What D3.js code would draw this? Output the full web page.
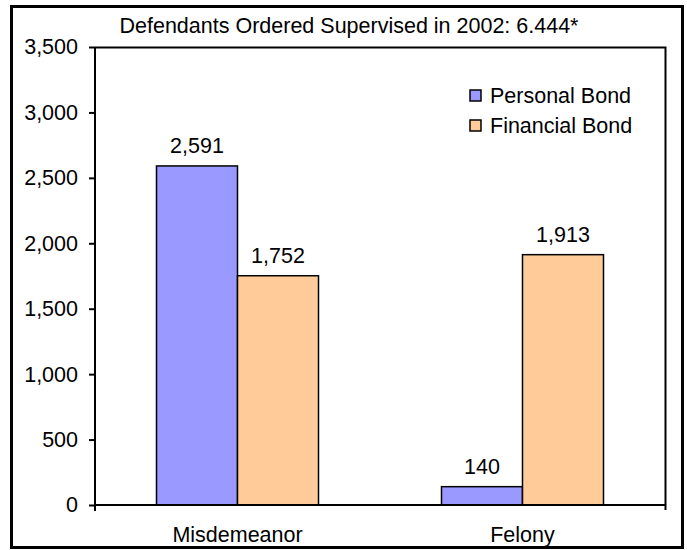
<!DOCTYPE html>
<html>
<head>
<meta charset="utf-8">
<script src="https://cdn.jsdelivr.net/npm/d3@7"></script>
<style>
  body { margin: 0; background: #fff; }
  text { font-family: "Liberation Sans", Arial, sans-serif; fill: #000; }
</style>
</head>
<body>
<svg width="687" height="550"></svg>
<script>
var categories = ['Misdemeanor', 'Felony'];
var series = ['Personal Bond', 'Financial Bond'];
var personalBond = [2591, 140];
var financialBond = [1752, 1913];
var yTicks = [0, 500, 1000, 1500, 2000, 2500, 3000, 3500];
var colors = ['#9999ff', '#ffcc99'];
var title = 'Defendants Ordered Supervised in 2002: 6.444*';

var fs = 21.5;
var svg = d3.select('svg');
var plot = { left: 95, right: 665, top: 47, bottom: 505 };

// outer frame
svg.append('rect')
    .attr('x', 11.5).attr('y', 6.5)
    .attr('width', 671).attr('height', 541)
    .attr('fill', 'none')
    .attr('stroke', '#000')
    .attr('stroke-width', 3);

var x0 = d3.scaleBand()
    .domain(categories)
    .range([plot.left, plot.right])
    .paddingInner(0.4316)
    .paddingOuter(0.2158);

var x1 = d3.scaleBand()
    .domain(series)
    .range([0, x0.bandwidth()]);

var y = d3.scaleLinear()
    .domain([0, 3500])
    .range([plot.bottom, plot.top]);

// plot border top + right
svg.append('path')
    .attr('d', 'M' + plot.left + ',' + (plot.top + 0.5) + 'H' + (plot.right + 0.5) + 'V' + (plot.bottom + 5))
    .attr('fill', 'none')
    .attr('stroke', '#000')
    .attr('stroke-width', 2);

var rows = categories.map(function(c, i) {
    return { cat: c, values: [personalBond[i], financialBond[i]] };
});

var groups = svg.append('g').selectAll('g')
    .data(rows)
    .join('g')
    .attr('transform', function(d) { return 'translate(' + x0(d.cat) + ',0)'; });

groups.selectAll('rect')
    .data(function(d) { return d.values.map(function(v, j) { return { s: series[j], v: v, j: j }; }); })
    .join('rect')
    .attr('x', function(d) { return x1(d.s); })
    .attr('y', function(d) { return y(d.v); })
    .attr('width', x1.bandwidth())
    .attr('height', function(d) { return y(0) - y(d.v); })
    .attr('fill', function(d) { return colors[d.j]; })
    .attr('stroke', '#000')
    .attr('stroke-width', 1.5);

groups.selectAll('text')
    .data(function(d) { return d.values.map(function(v, j) { return { s: series[j], v: v }; }); })
    .join('text')
    .attr('x', function(d) { return x1(d.s) + x1.bandwidth() / 2; })
    .attr('y', function(d) { return y(d.v) - 13; })
    .attr('text-anchor', 'middle')
    .attr('font-size', fs)
    .text(function(d) { return d3.format(',')(d.v); });

// y axis
var yAxis = svg.append('g')
    .attr('transform', 'translate(' + plot.left + ',0)')
    .call(d3.axisLeft(y).tickValues(yTicks).tickFormat(d3.format(',')).tickSize(6).tickPadding(11));
yAxis.select('.domain').attr('stroke-width', 2).attr('d', 'M0,' + plot.top + 'V' + (plot.bottom + 6));
yAxis.selectAll('.tick line').attr('stroke-width', 2);
yAxis.selectAll('.tick text').attr('font-size', fs).attr('font-family', '"Liberation Sans", Arial, sans-serif').attr('fill', '#000');

// x axis
var xAxis = svg.append('g')
    .attr('transform', 'translate(0,' + plot.bottom + ')')
    .call(d3.axisBottom(x0).tickSize(0).tickPadding(22));
xAxis.select('.domain').attr('stroke-width', 2).attr('d', 'M' + plot.left + ',0H' + (plot.right + 1));
xAxis.selectAll('.tick text').attr('font-size', fs).attr('font-family', '"Liberation Sans", Arial, sans-serif').attr('fill', '#000');

// title
svg.append('text')
    .attr('x', 349).attr('y', 33)
    .attr('text-anchor', 'middle')
    .attr('font-size', fs)
    .text(title);

// legend
var legend = svg.append('g').selectAll('g')
    .data(series)
    .join('g')
    .attr('transform', function(d, i) { return 'translate(470,' + (90 + i * 30) + ')'; });
legend.append('rect')
    .attr('width', 11).attr('height', 11)
    .attr('fill', function(d, i) { return colors[i]; })
    .attr('stroke', '#000')
    .attr('stroke-width', 1.5);
legend.append('text')
    .attr('x', 20).attr('y', 13)
    .attr('font-size', fs)
    .text(function(d) { return d; });
</script>
</body>
</html>
